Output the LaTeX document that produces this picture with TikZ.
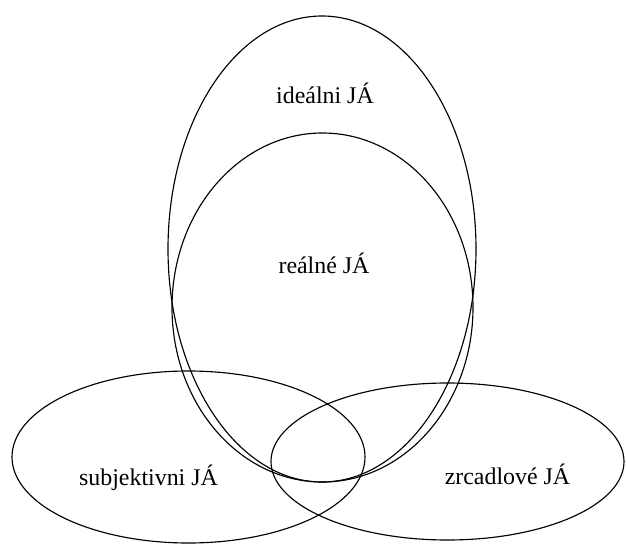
\documentclass[tikz,border=0pt]{standalone}
\usepackage{fontspec}
\setmainfont{Liberation Serif}
\usepackage{tikz}

\begin{document}
\begin{tikzpicture}[
   setline/.style={line width=0.65pt},
   setlabel/.style={font=\fontsize{13.6}{15}\selectfont,inner sep=0pt}
]
   \useasboundingbox (0,0) rectangle (12.52,10.9);

   \draw[setline] (6.44,5.92) ellipse [x radius=3.08,y radius=4.66];
   \draw[setline] (6.45,4.75) ellipse [x radius=3.01,y radius=3.49];
   \draw[setline] (3.77,1.76) ellipse [x radius=3.53,y radius=1.72];
   \draw[setline] (8.95,1.67) ellipse [x radius=3.53,y radius=1.57];

   \node[setlabel] (idealni) at (6.50,9.04) {ideálni JÁ};
   \node[setlabel] (realne) at (6.48,5.64) {reálné JÁ};
   \node[setlabel] (subjektivni) at (2.97,1.34) {subjektivni JÁ};
   \node[setlabel] (zrcadlove) at (10.15,1.42) {zrcadlové JÁ};
\end{tikzpicture}
\end{document}
